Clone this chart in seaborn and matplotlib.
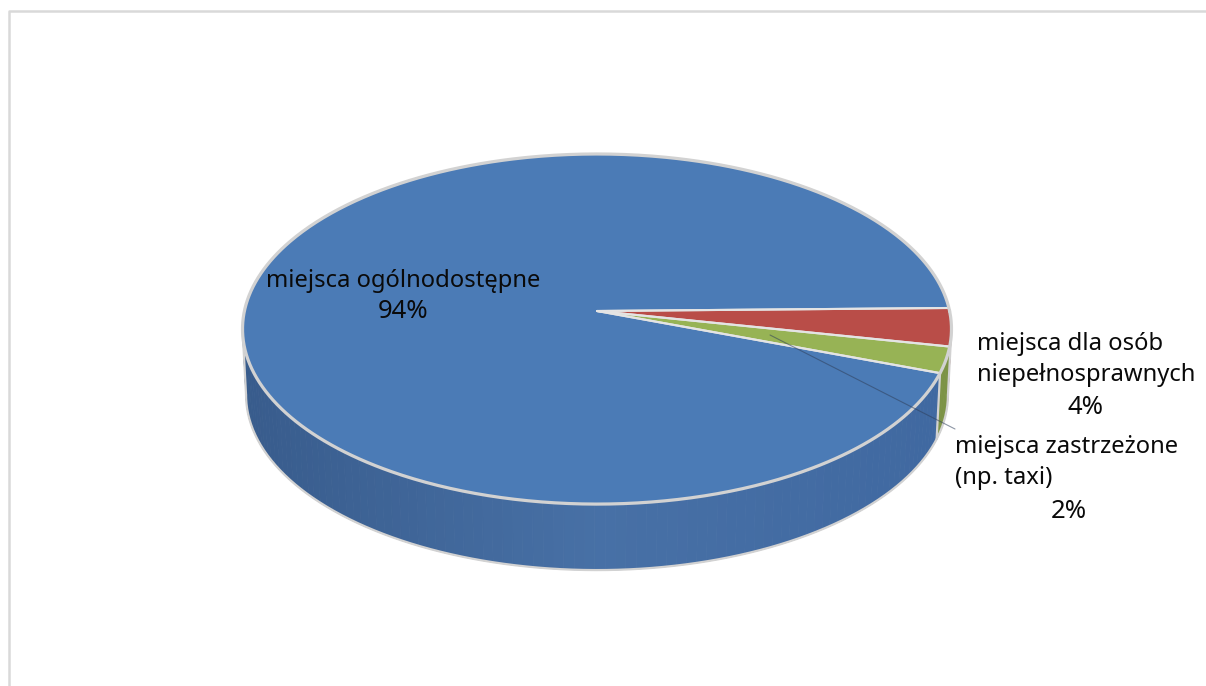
import numpy as np
import pandas as pd
import seaborn as sns
import matplotlib.pyplot as plt

categories = ['miejsca dla osób', 'miejsca zastrzeżone', 'miejsca ogólnodostępne']
shares = [3.5, 2.4, 94.1]
label_lines = [['miejsca dla osób', 'niepełnosprawnych'],
               ['miejsca zastrzeżone', '(np. taxi)'],
               ['miejsca ogólnodostępne']]

sns.set_theme(style='white')
plt.rcParams['font.family'] = ['Noto Sans', 'DejaVu Sans']

data = pd.DataFrame({'category': categories, 'share': shares})
data['sweep'] = data['share'] / data['share'].sum() * 360
data['start'] = 1 - data['sweep'].cumsum().shift(fill_value=0)
data['end'] = data['start'] - data['sweep']

top_colors = sns.color_palette(['#B94D48', '#97B355', '#4B7BB6'])
rim = '#D2D2D2'
separator = '#E4E4E4'

# perspective view of the disc, in pixels
cx, tip_y = 597, 311
half_w, half_h, persp = 352.6, 173.2, 0.103
depth = 66
bottom_scale = 0.99
right_edge, left_edge = -5.9, -174.1


def project(angle, drop=0, scale=1.0):
    t = np.radians(angle)
    w = 1 + persp * np.sin(t)
    return cx + scale * half_w * np.cos(t) / w, tip_y - half_h * np.sin(t) / w + drop


def wall_color(x, base):
    # side gets darker towards the left edge
    pos = (x - 245) / 705
    if base == 2:
        left = np.array([0.22, 0.36, 0.55])
        mid = np.array([0.28, 0.44, 0.65])
        right = np.array([0.25, 0.41, 0.63])
        if pos < 0.5:
            return left + (mid - left) * pos * 2
        return mid + (right - mid) * (pos - 0.5) * 2
    return np.array(top_colors[base]) * 0.82


fig, ax = plt.subplots(figsize=(12.06, 6.86), dpi=100)
fig.subplots_adjust(0, 0, 1, 1)
ax.set_xlim(0, 1206)
ax.set_ylim(686, 0)
ax.axis('off')

# chart frame, only top and left are visible in the crop
ax.plot([9, 9, 1206], [686, 11, 11], color='#D9D9D9', lw=1.8, zorder=1)

# side wall
for i, row in data.iterrows():
    a0 = min(row['start'], right_edge)
    a1 = max(row['end'], left_edge)
    if a0 <= a1:
        continue
    angles = np.linspace(a0, a1, max(int(abs(a1 - a0) / 1.5), 2))
    for s, e in zip(angles[:-1], angles[1:]):
        x0, y0 = project(s)
        x1, y1 = project(e)
        x2, y2 = project(e, depth, bottom_scale)
        x3, y3 = project(s, depth, bottom_scale)
        c = wall_color((x0 + x1) / 2, i)
        ax.fill([x0, x1, x2, x3], [y0, y1, y2, y3], color=c, lw=0.6, zorder=2)

# wall edge at the green/blue boundary
edge = data['end'].iloc[1]
xe, ye = project(edge)
xb, yb = project(edge, depth, bottom_scale)
ax.plot([xe, xb], [ye, yb], color=rim, lw=1.6, zorder=3)

# bottom outline and the two sides
ring = np.linspace(right_edge, left_edge, 300)
xr, yr = project(ring, depth, bottom_scale)
ax.plot(xr, yr, color=rim, lw=1.6, zorder=3)
for a in (right_edge, left_edge):
    xt, yt = project(a)
    xd, yd = project(a, depth, bottom_scale)
    ax.plot([xt, xd], [yt, yd], color=rim, lw=1.6, zorder=3)

# top face
for i, row in data.iterrows():
    arc = np.linspace(row['start'], row['end'], 400)
    xa, ya = project(arc)
    ax.fill(np.r_[cx, xa], np.r_[tip_y, ya], color=top_colors[i], lw=0, zorder=4)
    ax.plot(np.r_[cx, xa[0]], np.r_[tip_y, ya[0]], color=separator, lw=1.5, zorder=5)
    ax.plot(np.r_[cx, xa[-1]], np.r_[tip_y, ya[-1]], color=separator, lw=1.5, zorder=5)

full = np.linspace(0, 360, 720)
xf, yf = project(full)
ax.plot(xf, yf, color=rim, lw=2.3, zorder=6)

# leader line for the reserved spaces
ax.plot([770, 955], [335, 429], color='#2F3F5A', lw=0.8, alpha=0.55, zorder=7)

text_kw = dict(fontsize=17.15, color='#0A0A0A', va='center', zorder=8)
pct_kw = dict(text_kw, fontsize=18.5)
percents = [f'{p:.0f}%' for p in shares]

ax.text(403, 281, label_lines[2][0], ha='center', **text_kw)
ax.text(403, 312, percents[2], ha='center', **pct_kw)

ax.text(977, 344, label_lines[0][0], ha='left', **text_kw)
ax.text(977, 375, label_lines[0][1], ha='left', **text_kw)
ax.text(1086, 407, percents[0], ha='center', **pct_kw)

ax.text(955, 447, label_lines[1][0], ha='left', **text_kw)
ax.text(955, 478, label_lines[1][1], ha='left', **text_kw)
ax.text(1069, 511, percents[1], ha='center', **pct_kw)

fig.savefig('out.png', dpi=100)
